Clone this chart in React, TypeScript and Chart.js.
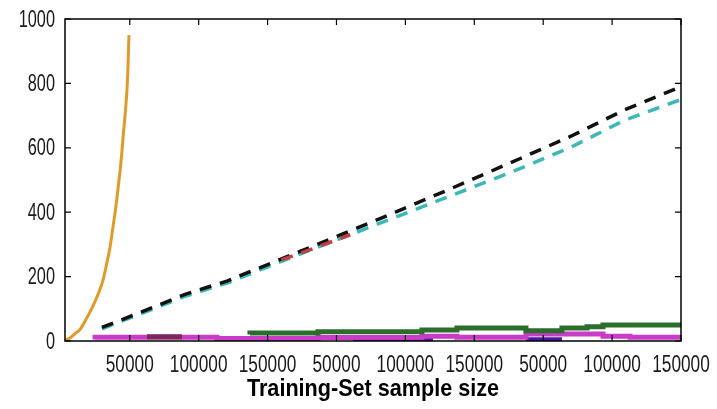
import React, { useEffect, useRef } from "react";
import { Chart, registerables } from "chart.js";

Chart.register(...registerables);

// X tick values (linear axis spanning three repeated 50000..150000 segments)
const xTickValues = [50000, 100000, 150000, 200000, 250000, 300000, 350000, 400000, 450000];
const xTickLabels = ["50000", "100000", "150000", "50000", "100000", "150000", "50000", "100000", "150000"];
const yTickValues = [0, 200, 400, 600, 800, 1000];
const yTickLabels = ["0", "200", "400", "600", "800", "1000"];
const xTitle = "Training-Set sample size";

// Orange solid curve
const orangeX = [3000, 6000, 10000, 14000, 18000, 23000, 27000, 30600, 33000, 35700, 37500, 39300, 41000, 42200, 43500, 44400, 45500, 46500, 47300, 48000, 48700, 49400];
const orangeY = [3, 8, 22, 36, 65, 106, 145, 189, 235, 292, 345, 397, 455, 500, 550, 593, 650, 696, 740, 780, 851, 950];

// Black dashed
const blackX = [29800, 59600, 90100, 120500, 173500, 231600, 282400, 333000, 370100, 409300, 450000];
const blackY = [42, 92, 145, 186, 278, 380, 472, 566, 636, 718, 790];

// Cyan dashed
const cyanX = [29800, 59600, 90100, 120500, 173500, 231600, 282400, 333000, 370100, 409300, 450000];
const cyanY = [38, 87, 139, 180, 270, 366, 450, 535, 602, 686, 750];

// Red dashed (mostly hidden under the others)
const redX = [160000, 185000, 210000];
const redY = [252, 290, 330];

// Magenta stepped
const magentaX = [24800, 113300, 186600, 262000, 287400, 337500, 393400, 413000, 436900, 450000];
const magentaY = [5, 12, 8, 11, 15, 12, 22, 15, 12, 12];

// Green stepped
const greenX = [137200, 186600, 262000, 287400, 337500, 363600, 381800, 393400, 436900, 450000];
const greenY = [20, 25, 29, 34, 40, 32, 40, 44, 50, 50];

// Purple stepped
const purpleX = [212000, 270000];
const purpleY = [3, 3];
const purple2X = [337500, 363600];
const purple2Y = [4, 4];

// Maroon segment
const maroonX = [62500, 87900];
const maroonY = [13, 13];

const toPts = (xs: number[], ys: number[]) => xs.map((x, i) => ({ x, y: ys[i] }));

const FONT = "'Liberation Sans', Arial, sans-serif";

function drawScaledText(ctx: any, text: string, x: number, y: number, sx: number, align: string) {
  ctx.save();
  ctx.translate(x, y);
  ctx.scale(sx, 1);
  ctx.textAlign = align;
  ctx.fillText(text, 0, 0);
  ctx.restore();
}

const framePlugin = {
  id: "frame",
  afterDraw(chart: any) {
    const { ctx, chartArea: a, scales } = chart;
    const xs = scales.x;
    const ys = scales.y;
    ctx.save();
    ctx.strokeStyle = "#000";
    ctx.lineWidth = 1.5;
    ctx.strokeRect(a.left, a.top, a.right - a.left, a.bottom - a.top);
    ctx.lineWidth = 1.2;
    const len = 6;
    ctx.beginPath();
    xTickValues.forEach((v) => {
      const px = xs.getPixelForValue(v);
      ctx.moveTo(px, a.bottom);
      ctx.lineTo(px, a.bottom - len);
      ctx.moveTo(px, a.top);
      ctx.lineTo(px, a.top + len);
    });
    yTickValues.forEach((v) => {
      const py = ys.getPixelForValue(v);
      ctx.moveTo(a.left, py);
      ctx.lineTo(a.left + len, py);
      ctx.moveTo(a.right, py);
      ctx.lineTo(a.right - len, py);
    });
    ctx.stroke();

    // tick labels (condensed look)
    ctx.fillStyle = "#1a1a1a";
    ctx.textBaseline = "middle";
    ctx.font = "24px " + FONT;
    yTickValues.forEach((v, i) => {
      drawScaledText(ctx, yTickLabels[i], a.left - 10, ys.getPixelForValue(v) + 1, 0.68, "right");
    });
    xTickValues.forEach((v, i) => {
      drawScaledText(ctx, xTickLabels[i], xs.getPixelForValue(v), a.bottom + 24, 0.72, "center");
    });

    // axis title
    ctx.fillStyle = "#000";
    ctx.font = "bold 24px " + FONT;
    drawScaledText(ctx, xTitle, (a.left + a.right) / 2, a.bottom + 48, 0.9, "center");
    ctx.restore();
  },
};

export default function App() {
  const ref = useRef<HTMLCanvasElement | null>(null);

  useEffect(() => {
    if (!ref.current) return;
    const dashed = [12, 9];
    const chart = new Chart(ref.current, {
      type: "line",
      data: {
        datasets: [
          { data: toPts(maroonX, maroonY), borderColor: "#7a2a5a", borderWidth: 5, stepped: "after", pointRadius: 0 },
          { data: toPts(greenX, greenY), borderColor: "#2b6e2b", borderWidth: 5, stepped: "after", pointRadius: 0 },
          { data: toPts(magentaX, magentaY), borderColor: "#c83cc8", borderWidth: 5, stepped: "after", pointRadius: 0 },
          { data: toPts(purpleX, purpleY), borderColor: "#4a1aa0", borderWidth: 5, stepped: "after", pointRadius: 0 },
          { data: toPts(purple2X, purple2Y), borderColor: "#4a1aa0", borderWidth: 5, stepped: "after", pointRadius: 0 },
          { data: toPts(redX, redY), borderColor: "#c04040", borderWidth: 3.5, borderDash: dashed, pointRadius: 0 },
          { data: toPts(blackX, blackY), borderColor: "#111111", borderWidth: 3.5, borderDash: dashed, pointRadius: 0, tension: 0 },
          { data: toPts(cyanX, cyanY), borderColor: "#3cb8b8", borderWidth: 3.5, borderDash: dashed, pointRadius: 0, tension: 0 },
          { data: toPts(orangeX, orangeY), borderColor: "#e09a28", borderWidth: 3, pointRadius: 0, cubicInterpolationMode: "monotone" },
        ],
      },
      options: {
        animation: false,
        responsive: false,
        maintainAspectRatio: false,
        layout: { padding: { top: 19, right: 36, bottom: 0, left: 0 } },
        plugins: { legend: { display: false }, tooltip: { enabled: false } },
        scales: {
          x: {
            type: "linear",
            min: 3000,
            max: 450000,
            grid: { display: false, drawTicks: false },
            border: { display: false },
            afterBuildTicks: (s: any) => {
              s.ticks = xTickValues.map((v) => ({ value: v }));
            },
            afterFit: (s: any) => {
              s.height = 68;
            },
            ticks: { display: false },
          },
          y: {
            type: "linear",
            min: 0,
            max: 1000,
            grid: { display: false, drawTicks: false },
            border: { display: false },
            afterBuildTicks: (s: any) => {
              s.ticks = yTickValues.map((v) => ({ value: v }));
            },
            afterFit: (s: any) => {
              s.width = 65;
            },
            ticks: { display: false },
          },
        },
      },
      plugins: [framePlugin],
    } as any);
    return () => chart.destroy();
  }, []);

  return (
    <div style={{ position: "fixed", left: 0, top: 0, width: 717, height: 409, background: "#fff" }}>
      <canvas ref={ref} width={717} height={409} style={{ display: "block" }} />
    </div>
  );
}
